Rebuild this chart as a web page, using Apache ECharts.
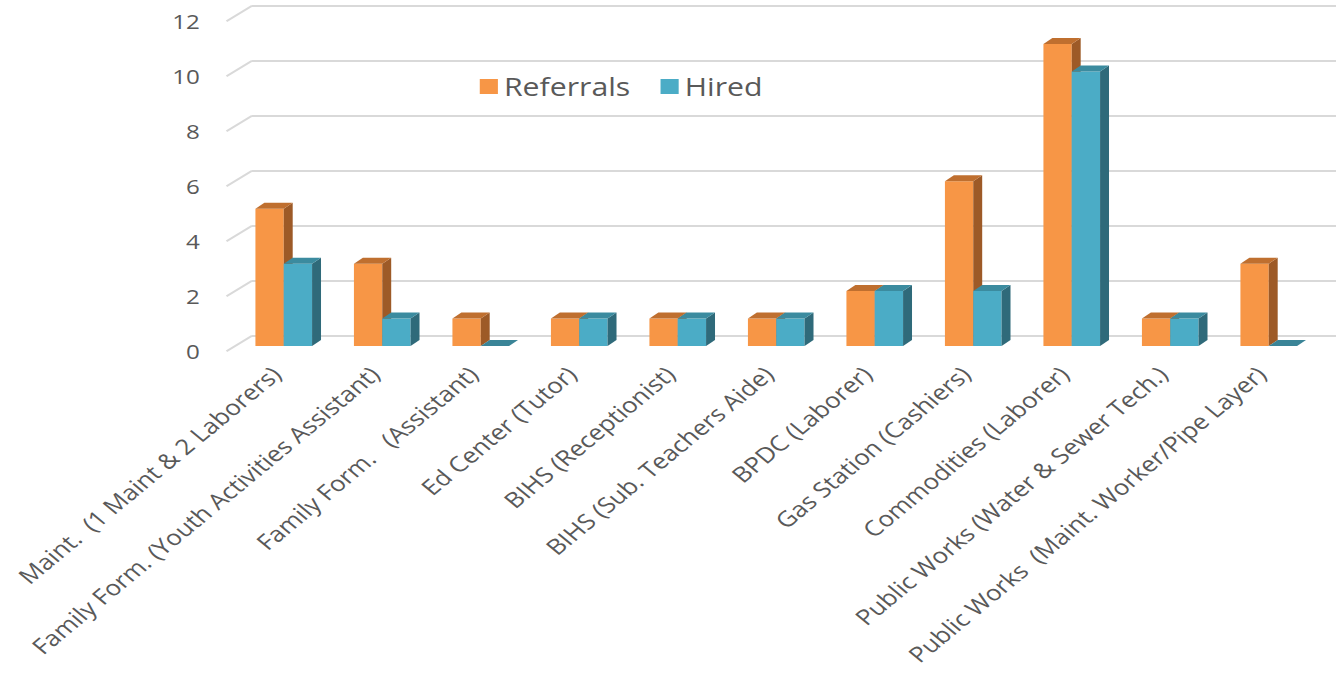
<!DOCTYPE html>
<html>
<head>
<meta charset="utf-8">
<script src="https://cdn.jsdelivr.net/npm/echarts@6/dist/echarts.min.js"></script>
<style>
  html, body { margin: 0; padding: 0; background: #ffffff; overflow: hidden; }
  #chart { width: 1108px; height: 673px; transform: scaleX(1.20939); transform-origin: 0 0; }
</style>
</head>
<body>
<div id="chart"></div>
<script>
// ---- data ----
const categories = [
  'Maint.  (1 Maint & 2 Laborers)',
  'Family Form. (Youth Activities Assistant)',
  'Family Form.   (Assistant)',
  'Ed Center (Tutor)',
  'BIHS (Receptionist)',
  'BIHS (Sub. Teachers Aide)',
  'BPDC (Laborer)',
  'Gas Station (Cashiers)',
  'Commodities (Laborer)',
  'Public Works (Water & Sewer Tech.)',
  'Public Works  (Maint. Worker/Pipe Layer)'
];
const referrals = [5, 3, 1, 1, 1, 1, 2, 6, 11, 1, 3];
const hired     = [3, 1, 0, 1, 1, 1, 2, 2, 10, 1, 0];
const yTicks    = [0, 2, 4, 6, 8, 10, 12];
const seriesNames = ['Referrals', 'Hired'];

// ---- style ----
const FRONT = ['#f79646', '#4bacc6'];
const TOPC  = ['#bf6f2f', '#3b8b9f'];
const SIDE  = ['#9d5a27', '#2f6a7a'];
const BAR_RATIO = 0.2875;
const DEPTH_X = 7.4, DEPTH_Y = 6;
const WALL_X = 21.1, WALL_Y = 15.5;
const TEXT = '#595959';
const FONT = '"Open Sans", "Noto Sans", sans-serif';

const chart = echarts.init(document.getElementById('chart'), null, { renderer: 'svg' });

function boxRenderer(sIdx) {
  return function (params, api) {
    const cat = api.value(0), val = api.value(1);
    const base = api.coord([cat, 0]);
    const top = api.coord([cat, val]);
    const w = api.size([1, 0])[0] * BAR_RATIO;
    const x0 = base[0] + (sIdx === 0 ? -w : 0);
    const x1 = x0 + w;
    const yT = top[1], yB = base[1];
    const children = [];
    if (yB - yT > 0.1) {
      children.push({
        type: 'rect',
        shape: { x: x0, y: yT, width: w, height: yB - yT },
        style: { fill: FRONT[sIdx] }
      });
      children.push({
        type: 'polygon',
        shape: { points: [[x1, yT], [x1 + DEPTH_X, yT - DEPTH_Y], [x1 + DEPTH_X, yB - DEPTH_Y], [x1, yB]] },
        style: { fill: SIDE[sIdx] }
      });
    }
    children.push({
      type: 'polygon',
      shape: { points: [[x0, yT], [x1, yT], [x1 + DEPTH_X, yT - DEPTH_Y], [x0 + DEPTH_X, yT - DEPTH_Y]] },
      style: { fill: sIdx === 1 && val === 0 ? '#3a8497' : TOPC[sIdx] }
    });
    return { type: 'group', children: children };
  };
}

function diagRenderer(params, api) {
  const p = api.coord([0, api.value(0)]);
  return {
    type: 'line',
    shape: { x1: p[0], y1: p[1], x2: p[0] + WALL_X, y2: p[1] - WALL_Y },
    style: { stroke: '#d9d9d9', lineWidth: 2 }
  };
}

const option = {
  backgroundColor: '#ffffff',
  animation: false,
  legend: {
    data: seriesNames.map((n, i) => ({ name: n, icon: 'rect', itemStyle: { color: FRONT[i] } })),
    left: 396.7,
    top: 74,
    padding: 0,
    itemWidth: 15,
    itemHeight: 15,
    itemGap: 25,
    textStyle: { color: TEXT, fontSize: 25, fontFamily: FONT }
  },
  grid: [
    { left: 208.4, right: 3.3, top: 5.7, bottom: 337.3, outerBoundsMode: 'none', containLabel: false },
    { left: 187.3, right: 20, top: 21.2, bottom: 321.8, outerBoundsMode: 'none', containLabel: false },
    { left: 193.9, right: 18.2, top: 16.6, bottom: 327, outerBoundsMode: 'none', containLabel: false }
  ],
  xAxis: [
    { gridIndex: 0, type: 'category', data: categories, show: false },
    { gridIndex: 1, type: 'value', min: 0, max: 1, show: false },
    {
      gridIndex: 2, type: 'category', data: categories,
      axisLine: { show: false }, axisTick: { show: false },
      axisLabel: { interval: 0, rotate: 45, margin: 18, padding: [0, 9, 0, 0],
                   color: TEXT, fontSize: 21.5, fontFamily: FONT }
    }
  ],
  yAxis: [
    {
      gridIndex: 0, type: 'value', min: 0, max: 12, interval: 2,
      axisLine: { show: false }, axisTick: { show: false }, axisLabel: { show: false },
      splitLine: { show: true, lineStyle: { color: '#d9d9d9', width: 2 } }
    },
    {
      gridIndex: 1, type: 'value', min: 0, max: 12, interval: 2,
      axisLine: { show: false }, axisTick: { show: false }, splitLine: { show: false },
      axisLabel: { margin: 22, color: TEXT, fontSize: 20, fontFamily: FONT }
    },
    {
      gridIndex: 2, type: 'value', min: 0, max: 12, interval: 2, show: false,
      splitLine: { show: false }
    }
  ],
  series: [
    {
      type: 'custom', name: 'wall', xAxisIndex: 1, yAxisIndex: 1,
      renderItem: diagRenderer, data: yTicks.map(v => [v]), silent: true,
      encode: { y: 0 }
    },
    {
      type: 'custom', name: seriesNames[0], xAxisIndex: 2, yAxisIndex: 2,
      itemStyle: { color: FRONT[0] },
      renderItem: boxRenderer(0),
      data: categories.map((c, i) => [i, referrals[i]]),
      encode: { x: 0, y: 1 }
    },
    {
      type: 'custom', name: seriesNames[1], xAxisIndex: 2, yAxisIndex: 2,
      itemStyle: { color: FRONT[1] },
      renderItem: boxRenderer(1),
      data: categories.map((c, i) => [i, hired[i]]),
      encode: { x: 0, y: 1 }
    }
  ]
};
chart.setOption(option);
</script>
</body>
</html>
